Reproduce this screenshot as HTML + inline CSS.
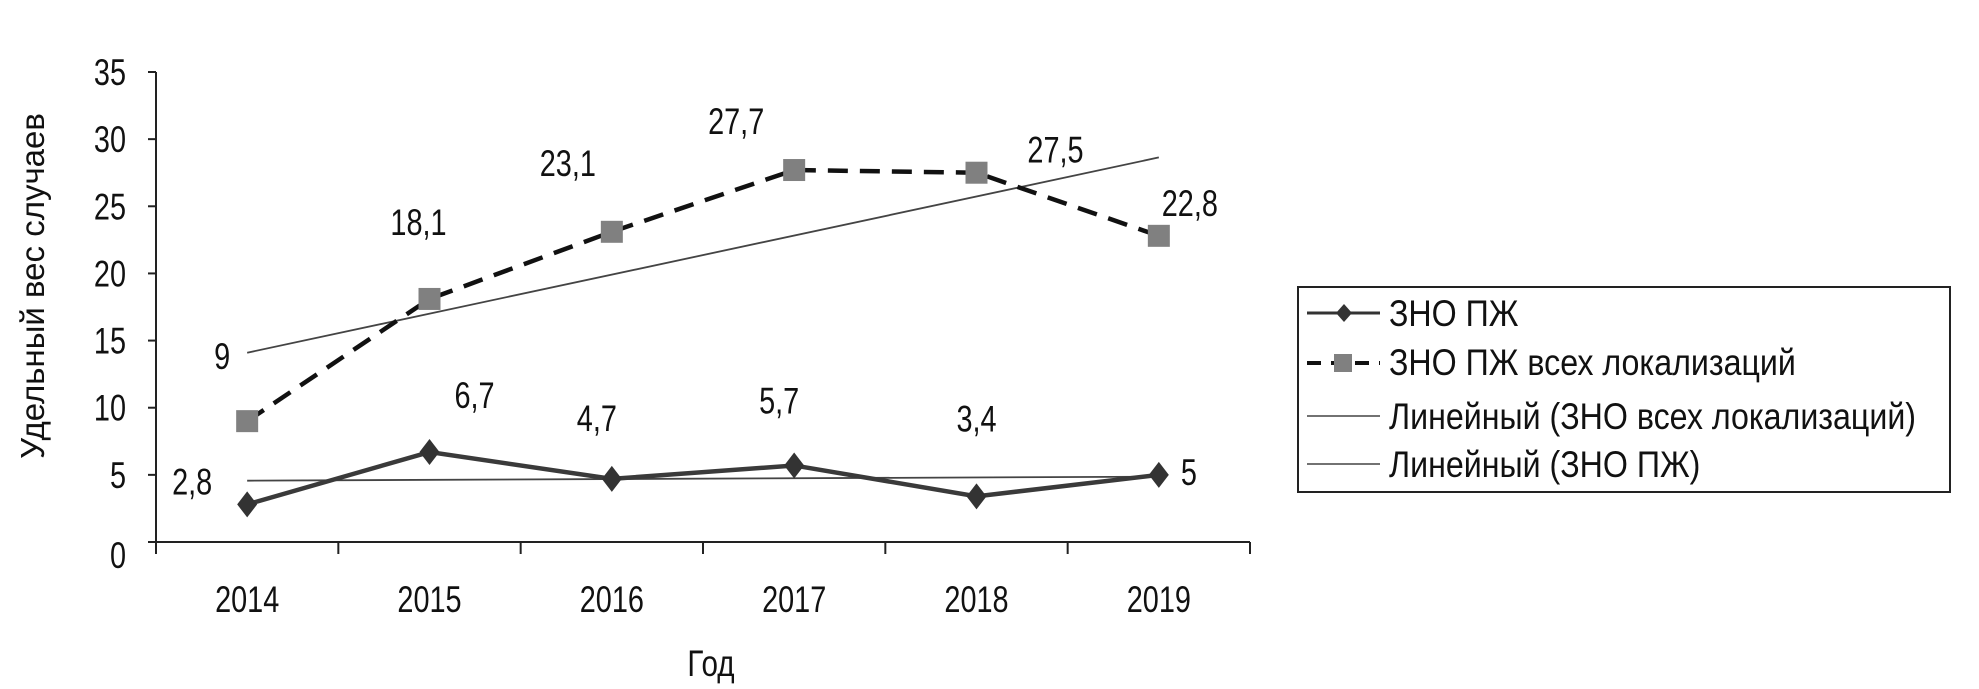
<!DOCTYPE html>
<html><head><meta charset="utf-8"><style>
body{margin:0;background:#fff;width:1979px;height:689px;overflow:hidden}
svg{display:block}
.t{font-family:"Liberation Sans",sans-serif;font-size:37px;fill:#111}
</style></head><body>
<svg id="chart" width="1979" height="689" xmlns="http://www.w3.org/2000/svg">
<text x="44" y="286" transform="rotate(-90 44 286)" text-anchor="middle" font-family="Liberation Sans, sans-serif" font-size="33" fill="#111">Удельный вес случаев</text>
<text class="t" transform="translate(711 676) scale(0.8 1)" text-anchor="middle">Год</text>
<g id="plot"></g>
<g>
<rect x="1298" y="287" width="652" height="205" fill="#fff" stroke="#222" stroke-width="2"/>
<g>
<line x1="1307" y1="313" x2="1380" y2="313" stroke="#333" stroke-width="3"/>
<path d="M1344 304 L1352 313 L1344 322 L1336 313Z" fill="#333"/>
<text class="t" transform="translate(1389 326) scale(0.87 1)">ЗНО ПЖ</text></g>
<g>
<line x1="1307" y1="363" x2="1380" y2="363" stroke="#111" stroke-width="4" stroke-dasharray="14,10"/>
<rect x="1334" y="354" width="18" height="18" fill="#808080"/>
<text class="t" transform="translate(1389 375) scale(0.87 1)">ЗНО ПЖ всех локализаций</text></g>
<g>
<line x1="1307" y1="416" x2="1380" y2="416" stroke="#444" stroke-width="1.5"/>
<text class="t" transform="translate(1389 429) scale(0.87 1)">Линейный (ЗНО всех локализаций)</text></g>
<g>
<line x1="1307" y1="464" x2="1380" y2="464" stroke="#444" stroke-width="1.5"/>
<text class="t" transform="translate(1389 477) scale(0.87 1)">Линейный (ЗНО ПЖ)</text></g>
</g>
</svg>
<script>
const categories=["2014","2015","2016","2017","2018","2019"];
const seriesPZh=[2.8,6.7,4.7,5.7,3.4,5];
const seriesAll=[9,18.1,23.1,27.7,27.5,22.8];
const labelsPZh=["2,8","6,7","4,7","5,7","3,4","5"];
const labelsAll=["9","18,1","23,1","27,7","27,5","22,8"];
const yTicks=[0,5,10,15,20,25,30,35];
const offPZh=[[-55,-10],[45,-44],[-15,-48],[-15,-52],[0,-65],[30,10]];
const offAll=[[-25,-52],[-11,-64],[-44,-56],[-58,-36],[79,-10],[31,-20]];
const NS="http://www.w3.org/2000/svg";
const g=document.getElementById('plot');
const X0=156,X1=1250,Y0=542,Y35=72;
const bw=(X1-X0)/categories.length;
function xs(i){return X0+bw*(i+0.5);}
function ys(v){return Y0-(Y0-Y35)*v/35;}
function mk(t,a){const e=document.createElementNS(NS,t);for(const k in a)e.setAttribute(k,a[k]);g.appendChild(e);return e;}
function txt(x,y,anchor,s){const t=mk('text',{transform:`translate(${x} ${y}) scale(0.78 1)`,'text-anchor':anchor,class:'t'});t.textContent=s;return t;}
let e=mk('line',{x1:X0,y1:Y35,x2:X0,y2:Y0,stroke:'#222','stroke-width':2});


e=mk('line',{x1:X0-8,y1:Y0,x2:X1,y2:Y0,stroke:'#222','stroke-width':2});


yTicks.forEach(v=>{
 mk('line',{x1:X0-8,y1:ys(v),x2:X0,y2:ys(v),stroke:'#222','stroke-width':2});
 const t=txt(X0-30,ys(v)+(v===0?26:13),'end',String(v));
 
 
});
for(let i=0;i<=categories.length;i++)mk('line',{x1:X0+bw*i,y1:Y0,x2:X0+bw*i,y2:Y0+12,stroke:'#222','stroke-width':2});
categories.forEach((c,i)=>{
 const t=txt(xs(i),612,'middle',c);
 
 
});
function trend(arr){const n=arr.length,mx=(n-1)/2,my=arr.reduce((a,b)=>a+b,0)/n;let s=0,q=0;arr.forEach((v,i)=>{s+=(i-mx)*(v-my);q+=(i-mx)*(i-mx);});const b=s/q;return [my-b*mx,my+b*(n-1-mx)];}
[[seriesAll,'trend-all'],[seriesPZh,'trend-pzh']].forEach(([arr,nm])=>{
 const [a,b]=trend(arr);
 const l=mk('line',{x1:xs(0),y1:ys(a),x2:xs(arr.length-1),y2:ys(b),stroke:'#444','stroke-width':1.8});
 
 
});
let p=mk('polyline',{points:seriesAll.map((v,i)=>xs(i)+','+ys(v)).join(' '),fill:'none',stroke:'#111','stroke-width':4.5,'stroke-dasharray':'20,12'});


p=mk('polyline',{points:seriesPZh.map((v,i)=>xs(i)+','+ys(v)).join(' '),fill:'none',stroke:'#3a3a3a','stroke-width':4.5});


seriesAll.forEach((v,i)=>{
 const r=mk('rect',{x:xs(i)-11,y:ys(v)-11,width:22,height:22,fill:'#808080'});
 
 
 const t=txt(xs(i)+offAll[i][0],ys(v)+offAll[i][1],'middle',labelsAll[i]);
 
 
});
seriesPZh.forEach((v,i)=>{
 const x=xs(i),y=ys(v);
 const d=mk('path',{d:`M${x} ${y-13}L${x+10} ${y}L${x} ${y+13}L${x-10} ${y}Z`,fill:'#333'});
 
 
 const t=txt(x+offPZh[i][0],y+offPZh[i][1],'middle',labelsPZh[i]);
 
 
});
</script>
</body></html>
